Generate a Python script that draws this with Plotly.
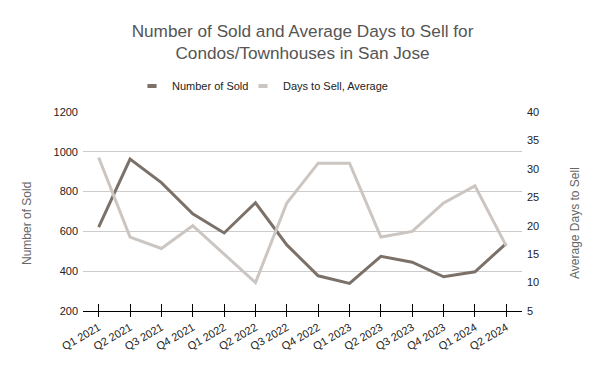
import plotly.graph_objects as go

quarters = ["Q1 2021", "Q2 2021", "Q3 2021", "Q4 2021", "Q1 2022", "Q2 2022", "Q3 2022",
            "Q4 2022", "Q1 2023", "Q2 2023", "Q3 2023", "Q4 2023", "Q1 2024", "Q2 2024"]
number_sold = [622, 963, 845, 688, 592, 744, 532, 377, 339, 475, 445, 372, 397, 540]
days_to_sell = [32, 18, 16, 20, 15, 10, 24, 31, 31, 18, 19, 24, 27, 16.4]

dark = "#7b7169"
light = "#ccc6c2"
font_main = "Liberation Sans, Arial, sans-serif"
W, H = 600, 371
L, R, T, B = 83, 78, 112, 60

fig = go.Figure()
fig.add_trace(go.Scatter(x=quarters, y=number_sold, name="Number of Sold", mode="lines",
                         line=dict(color=dark, width=3), yaxis="y", xaxis="x", showlegend=False))
fig.add_trace(go.Scatter(x=quarters, y=days_to_sell, name="Days to Sell, Average", mode="lines",
                         line=dict(color=light, width=3), yaxis="y2", xaxis="x", showlegend=False))
# legend entries (short swatches)
for nm, col in [("Number of Sold", dark), ("Days to Sell, Average", light)]:
    fig.add_trace(go.Scatter(x=[None], y=[None], name=nm, mode="markers",
                             marker=dict(symbol="line-ew", size=6.5, line=dict(width=4, color=col)),
                             showlegend=True, hoverinfo="skip"))
# invisible spacer entry so the last legend label is not clipped
fig.add_trace(go.Scatter(x=[None], y=[None], name=" ", mode="markers",
                         marker=dict(symbol="line-ew", size=1, opacity=0, line=dict(width=0)),
                         showlegend=True, hoverinfo="skip"))
# invisible trace on overlay x-axis to draw the upper half of crossing ticks
fig.add_trace(go.Scatter(x=quarters, y=number_sold, mode="lines", line=dict(width=0),
                         showlegend=False, hoverinfo="skip", xaxis="x2", yaxis="y", opacity=0))

ph = H - T - B
pw = W - L - R

fig.update_layout(
    width=W, height=H,
    margin=dict(l=L, r=R, t=T, b=B, autoexpand=False),
    paper_bgcolor="white", plot_bgcolor="white",
    font=dict(family=font_main, size=11, color="#222222"),
    title=dict(text="Number of Sold and Average Days to Sell for<br>Condos/Townhouses in San Jose",
               x=0.5, xanchor="center", xref="paper", yref="container", y=1 - 37 / H, yanchor="middle",
               font=dict(family=font_main, size=17.2, color="#555555")),
    legend=dict(orientation="h", x=(132 - L) / pw, xanchor="left", y=1 + (T - 86) / ph, yanchor="middle",
                itemwidth=30, entrywidth=66, font=dict(size=11, color="#222222"),
                bgcolor="rgba(0,0,0,0)", itemclick=False, itemdoubleclick=False),
    xaxis=dict(type="category", showgrid=False, showline=True, linecolor="#000000", linewidth=1,
               ticks="outside", ticklen=5, tickcolor="#000000", tickangle=-30, automargin=False,
               tickfont=dict(size=11, color="#222222"), range=[-0.5, 13.5]),
    xaxis2=dict(type="category", overlaying="x", side="bottom", showgrid=False, showline=False,
                ticks="inside", ticklen=7, tickcolor="#000000", showticklabels=False,
                range=[-0.5, 13.5], matches="x", automargin=False),
    yaxis=dict(range=[200, 1200], tickvals=[200, 400, 600, 800, 1000, 1200], showgrid=True,
               gridcolor="#cccccc", zeroline=False, showline=False, ticks="", ticklen=0,
               ticklabelstandoff=4, automargin=False, tickfont=dict(size=11, color="#222222")),
    yaxis2=dict(range=[5, 40], tickvals=[5, 10, 15, 20, 25, 30, 35, 40], overlaying="y", side="right",
                showgrid=False, zeroline=False, showline=False, ticks="", ticklen=0,
                ticklabelstandoff=4, automargin=False, tickfont=dict(size=11, color="#222222")),
    showlegend=True,
    annotations=[
        dict(text="Number of Sold", textangle=-90, xref="paper", yref="paper",
             x=(27 - L) / pw, y=(H - B - 223) / ph,
             xanchor="center", yanchor="middle", showarrow=False,
             font=dict(size=12, color="#666666")),
        dict(text="Average Days to Sell", textangle=-90, xref="paper", yref="paper",
             x=(575 - L) / pw, y=(H - B - 223) / ph,
             xanchor="center", yanchor="middle", showarrow=False,
             font=dict(size=12, color="#666666")),
    ],
)

fig.write_html("out.html", config={"displayModeBar": False},
               post_script="document.body.style.margin='0';")
